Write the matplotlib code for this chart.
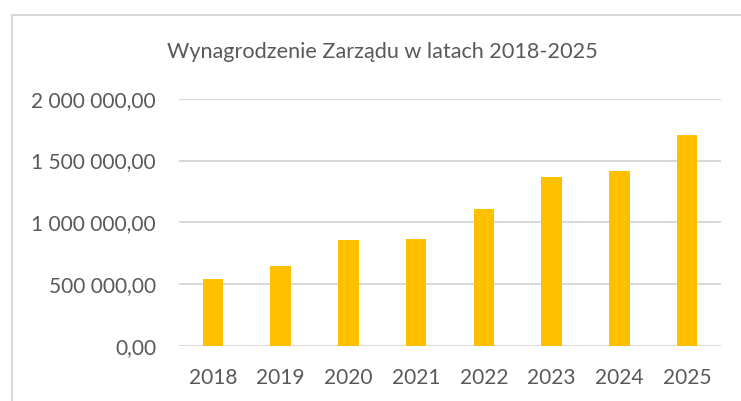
import matplotlib
matplotlib.use("Agg")
import matplotlib.pyplot as plt
from matplotlib.lines import Line2D
from matplotlib.ticker import FuncFormatter

years = ["2018", "2019", "2020", "2021", "2022", "2023", "2024", "2025"]
values = [541000, 646000, 854000, 864000, 1104000, 1363000, 1416000, 1707000]
yticks = [0, 500000, 1000000, 1500000, 2000000]
title = "Wynagrodzenie Zarządu w latach 2018-2025"

TXT = "#595959"
GRID = "#d9d9d9"
BAR = "#FFC000"

plt.rcParams['font.family'] = ['Lato', 'DejaVu Sans']

W, H = 741, 401
fig = plt.figure(figsize=(W / 100, H / 100), dpi=100)
fig.patch.set_facecolor("white")

ax = fig.add_axes([179 / W, (H - 346) / H, (721 - 179) / W, (346 - 98.7) / H])
x = range(len(years))
ax.bar(x, values, width=0.3, color=BAR, zorder=3)
ax.set_xlim(-0.5, len(years) - 0.5)
ax.set_ylim(0, 2000000)
ax.set_yticks(yticks)


def fmt(v, pos):
    s = f"{v:,.2f}"
    return s.replace(",", " ").replace(".", ",")


ax.yaxis.set_major_formatter(FuncFormatter(fmt))
ax.set_xticks(list(x))
ax.set_xticklabels(years)
ax.grid(axis="y", color=GRID, linewidth=1.5, zorder=0)
ax.set_axisbelow(True)
for s in ax.spines.values():
    s.set_visible(False)
ax.tick_params(axis="both", length=0, labelcolor=TXT, labelsize=15)
ax.tick_params(axis="y", pad=16.5)
ax.tick_params(axis="x", pad=16)

fig.text(382 / W, (H - 58.3) / H, title, ha="center", va="baseline",
         color=TXT, fontsize=15.6)

# chart border (left and top visible)
fig.add_artist(Line2D([12 / W, 12 / W], [0, (H - 15) / H], color=GRID, lw=1.5,
                      transform=fig.transFigure))
fig.add_artist(Line2D([12 / W, 1], [(H - 15) / H, (H - 15) / H], color=GRID, lw=1.5,
                      transform=fig.transFigure))

fig.savefig("out.png", dpi=100)
